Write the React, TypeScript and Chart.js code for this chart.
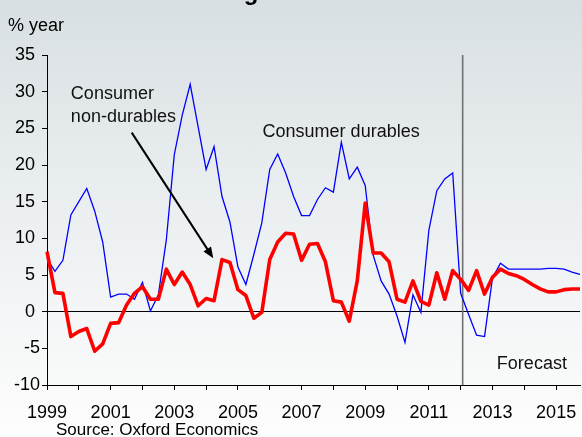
import React, { useEffect, useRef } from "react";
import { Chart, registerables } from "chart.js";

Chart.register(...registerables);

// ---------- data ----------
const years = [1999, 2000, 2001, 2002, 2003, 2004, 2005, 2006, 2007, 2008, 2009, 2010, 2011, 2012, 2013, 2014, 2015];
const quarters = ["Q1", "Q2", "Q3", "Q4"];
const categories = years.flatMap((y) => quarters.map((q) => `${y} ${q}`));
const yearTickLabels = ["1999", "2001", "2003", "2005", "2007", "2009", "2011", "2013", "2015"];

// Consumer non-durables, % year (quarterly, 1999Q1 - 2015Q4)
const nonDurables = [
  8.2, 2.6, 2.5, -3.4, -2.7, -2.3, -5.4, -4.4, -1.6, -1.5,
  0.9, 2.5, 3.4, 1.7, 1.7, 5.8, 3.7, 5.4, 3.7, 0.8,
  1.8, 1.5, 7.1, 6.7, 3.0, 2.2, -0.9, -0.1, 7.1, 9.5,
  10.7, 10.6, 7.0, 9.2, 9.3, 6.8, 1.5, 1.3, -1.3, 4.2,
  14.8, 8.0, 8.0, 6.8, 1.7, 1.3, 4.2, 1.4, 0.9, 5.3,
  1.7, 5.6, 4.4, 2.9, 5.6, 2.4, 4.7, 5.8, 5.2, 4.9,
  4.4, 3.7, 3.1, 2.7, 2.7, 3.0, 3.1, 3.1,
];

// Consumer durables, % year
const durables = [
  7.25, 5.5, 7.0, 13.2, 15.0, 16.8, 13.7, 9.5, 2.0, 2.4,
  2.4, 1.7, 4.0, 0.1, 2.3, 9.8, 21.4, 26.8, 31.0, 25.2,
  19.4, 22.5, 15.7, 12.2, 6.1, 3.7, 7.8, 12.1, 19.4, 21.5,
  18.9, 15.7, 13.1, 13.1, 15.3, 16.9, 16.3, 23.1, 18.1, 19.7,
  17.2, 7.7, 4.2, 2.4, -0.6, -4.2, 2.3, -0.1, 11.1, 16.5,
  18.1, 18.9, 2.5, -0.4, -3.2, -3.4, 4.6, 6.6, 5.8, 5.8,
  5.8, 5.8, 5.8, 5.9, 5.9, 5.8, 5.4, 5.1,
];

const yMin = -10;
const yMax = 35;
const yStep = 5;
const forecastStart = 52.25; // category index where the forecast begins

const FONT = "'Liberation Sans', Arial, Helvetica, sans-serif";

const annotationPlugin = {
  id: "annotations",
  beforeDatasetsDraw(chart: any) {
    const { ctx, chartArea, scales } = chart;
    const px = scales.x.getPixelForValue(forecastStart);
    ctx.save();
    ctx.strokeStyle = "#707070";
    ctx.lineWidth = 1.6;
    ctx.beginPath();
    ctx.moveTo(px, chartArea.top);
    ctx.lineTo(px, chartArea.bottom);
    ctx.stroke();
    ctx.restore();
  },
  afterDraw(chart: any) {
    const { ctx, scales } = chart;
    const X = (v: number) => scales.x.getPixelForValue(v);
    const Y = (v: number) => scales.y.getPixelForValue(v);
    ctx.save();
    ctx.fillStyle = "#000";
    ctx.textBaseline = "alphabetic";
    ctx.textAlign = "left";

    // title (mostly cut off at the top)
    ctx.font = `bold 24px ${FONT}`;
    ctx.fillText("Chart 1: Consumer goods", 21, -0.5);

    ctx.font = `18px ${FONT}`;
    ctx.fillText("% year", 8, 31);

    ctx.font = `17px ${FONT}`;
    ctx.fillText("Source: Oxford Economics", 56, 435);

    ctx.fillStyle = "#111";
    ctx.font = `18px ${FONT}`;
    ctx.fillText("Consumer", X(3.0), Y(28.96));
    ctx.fillText("non-durables", X(3.0), Y(25.9));
    ctx.fillText("Consumer durables", X(27.1), Y(23.78));
    ctx.fillText("Forecast", X(56.55), Y(-7.85));

    // arrow
    const x1 = X(10.65), y1 = Y(24.41);
    const x2 = X(20.9), y2 = Y(7.28);
    const ang = Math.atan2(y2 - y1, x2 - x1);
    const headLen = 11;
    const headW = 4.5;
    ctx.strokeStyle = "#000";
    ctx.lineWidth = 2;
    ctx.beginPath();
    ctx.moveTo(x1, y1);
    ctx.lineTo(x2 - Math.cos(ang) * headLen * 0.8, y2 - Math.sin(ang) * headLen * 0.8);
    ctx.stroke();
    ctx.fillStyle = "#000";
    ctx.beginPath();
    ctx.moveTo(x2, y2);
    const bx = x2 - Math.cos(ang) * headLen;
    const by = y2 - Math.sin(ang) * headLen;
    ctx.lineTo(bx + Math.sin(ang) * headW, by - Math.cos(ang) * headW);
    ctx.lineTo(bx - Math.sin(ang) * headW, by + Math.cos(ang) * headW);
    ctx.closePath();
    ctx.fill();
    ctx.restore();
  },
};

export default function App() {
  const canvasRef = useRef<HTMLCanvasElement | null>(null);

  useEffect(() => {
    if (!canvasRef.current) return;
    const chart = new Chart(canvasRef.current, {
      type: "line",
      data: {
        labels: categories,
        datasets: [
          {
            label: "Consumer non-durables",
            data: nonDurables,
            borderColor: "#ff0000",
            borderWidth: 3.6,
            pointRadius: 0,
            tension: 0,
            fill: false,
            borderJoinStyle: "round",
          },
          {
            label: "Consumer durables",
            data: durables,
            borderColor: "#0000ff",
            borderWidth: 1.3,
            pointRadius: 0,
            tension: 0,
            fill: false,
          },
        ],
      },
      options: {
        responsive: false,
        animation: false,
        events: [],
        layout: { padding: { top: 55, right: 2, left: 0, bottom: 0 } },
        plugins: {
          legend: { display: false },
          tooltip: { enabled: false },
          title: { display: false },
        },
        scales: {
          x: {
            type: "category",
            offset: false,
            border: { display: true, color: "#000", width: 1 },
            grid: {
              drawOnChartArea: false,
              drawTicks: true,
              tickLength: 5,
              color: "rgba(0,0,0,0)",
              tickColor: (c: any) => (c.index % 4 === 0 ? "#000" : "rgba(0,0,0,0)"),
            },
            ticks: {
              autoSkip: false,
              maxRotation: 0,
              minRotation: 0,
              padding: 12,
              color: "#000",
              font: { family: FONT, size: 18 },
              callback: (_v: any, i: number) => (i % 8 === 0 ? yearTickLabels[i / 8] : ""),
            },
            afterFit: (s: any) => {
              s.height = 52;
              s.paddingLeft = 0;
              s.paddingRight = 0;
            },
          },
          y: {
            min: yMin,
            max: yMax,
            border: { display: true, color: "#000", width: 1 },
            grid: {
              drawOnChartArea: true,
              drawTicks: true,
              tickLength: 5,
              color: (c: any) => (c.tick && c.tick.value === 0 ? "#000" : "rgba(0,0,0,0)"),
              tickColor: "#000",
            },
            ticks: {
              stepSize: yStep,
              padding: 2,
              color: "#000",
              font: { family: FONT, size: 18 },
              callback: (v: any) => (Number(v) >= 0 ? `${v}\u00a0` : `${v}`),
            },
            afterFit: (s: any) => {
              s.width = 47;
            },
          },
        },
      },
      plugins: [annotationPlugin],
    });
    return () => chart.destroy();
  }, []);

  return (
    <div
      style={{
        position: "fixed",
        left: 0,
        top: 0,
        width: 582,
        height: 437,
        background: "linear-gradient(to bottom, #d8dfe2 0%, #e6ebed 35%, #f3f5f6 70%, #fdfdfd 100%)",
      }}
    >
      <canvas ref={canvasRef} width={582} height={437} style={{ display: "block" }} />
    </div>
  );
}
